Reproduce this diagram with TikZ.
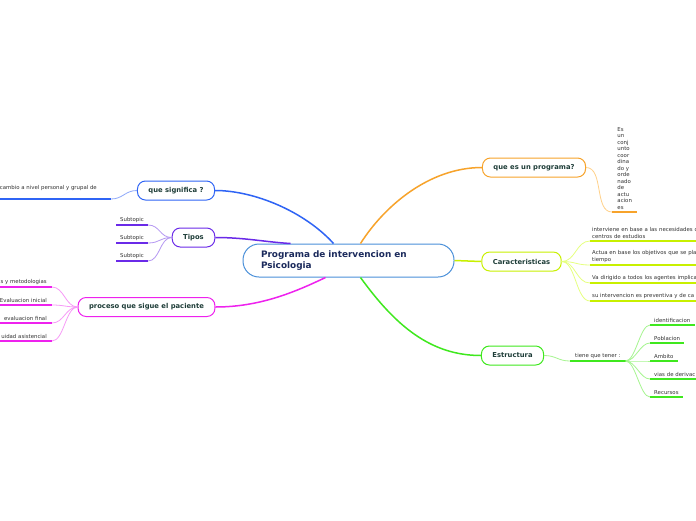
\documentclass[tikz,border=0pt]{standalone}
\usepackage{fontspec}
\setmainfont{DejaVu Sans}
\begin{document}
\begin{tikzpicture}[x=1pt,y=-1pt,
  topic/.style={draw,line width=1pt,rounded corners=8pt,fill=white,minimum height=19pt,inner xsep=11pt,inner ysep=0pt,text=topictext,font=\fontsize{6.8}{8}\selectfont\bfseries},
  leafr/.style={anchor=south west,inner xsep=4pt,inner ysep=2.5pt,align=left,text=leaftext,font=\fontsize{5.4}{6.5}\selectfont},
  leafl/.style={leafr,anchor=south east,align=right},
  ul/.style={line width=1.6pt},
  trunk/.style={line width=1.5pt},
  twig/.style={line width=0.8pt}]
\definecolor{ctrline}{HTML}{4A90D9}\definecolor{ctrtext}{HTML}{1B2A5C}
\definecolor{orng}{HTML}{F7A32B}\definecolor{orngl}{HTML}{FFD18A}
\definecolor{ylw}{HTML}{C8F000}\definecolor{ylwl}{HTML}{E6FF80}
\definecolor{grn}{HTML}{3FE81E}\definecolor{grnl}{HTML}{A6F590}
\definecolor{blu}{HTML}{2F64F5}\definecolor{blul}{HTML}{8FA9FA}
\definecolor{prp}{HTML}{6A2AE8}\definecolor{prpl}{HTML}{B497F2}
\definecolor{mgt}{HTML}{EE22EE}\definecolor{mgtl}{HTML}{F79AF7}
\definecolor{topictext}{HTML}{1E3D38}\definecolor{leaftext}{HTML}{333333}
\path[use as bounding box,fill=white] (0,0) rectangle (696,520);
\node[draw=ctrline,line width=1pt,rounded corners=16pt,fill=white,minimum height=33pt,text width=175pt,inner xsep=18pt,align=left,text=ctrtext,font=\fontsize{8.9}{11}\selectfont\bfseries] (prog) at (348.5,260.5) {Programa de intervencion en\\Psicologia};
\node[topic,draw=orng] (quees) at (534,167.5) {que es un programa?};
\node[topic,draw=ylw] (carac) at (521.5,261.5) {Caracteristicas};
\node[topic,draw=grn] (estr) at (512.5,355.5) {Estructura};
\node[topic,draw=blu] (signif) at (176,190.5) {que significa ?};
\node[topic,draw=prp] (tipos) at (193.5,237.5) {Tipos};
\node[topic,draw=mgt] (proc) at (146.5,307) {proceso que sigue el paciente};
\draw[trunk,orng] ([xshift=12pt]prog.north) .. controls (385,205) and (430,167.5) .. (quees.west);
\draw[trunk,blu] ([xshift=-15pt]prog.north) .. controls (305,212) and (255,190.5) .. (signif.east);
\draw[trunk,prp] ([xshift=-58pt]prog.north) .. controls (265,242) and (245,237.5) .. (tipos.east);
\draw[trunk,mgt] ([xshift=-23pt]prog.south) .. controls (295,292) and (260,307) .. (proc.east);
\draw[trunk,grn] ([xshift=12pt]prog.south) .. controls (395,325) and (430,355.5) .. (estr.west);
\draw[trunk,ylw] (prog.east) .. controls (468,261) and (468,261.5) .. (carac.west);
\node[leafr,inner xsep=5pt,minimum width=25pt] (es) at (612,212) {Es\\un\\conj\\unto\\coor\\dina\\do y\\orde\\nado\\de\\actu\\acion\\es};
\draw[twig,orngl] (quees.east) .. controls +(18,0) and +(-18,0) .. (es.south west);
\draw[ul,orng] (es.south west) -- (es.south east);
\node[leafr,inner xsep=2pt,text width=130pt] (nece) at (590,241) {interviene en base a las necesidades de\\centros de estudios};
\node[leafr,inner xsep=2pt,text width=130pt] (obje) at (590,265) {Actua en base los objetivos que se pla\\tiempo};
\node[leafr,inner xsep=2pt,text width=130pt] (agen) at (590,283) {Va dirigido a todos los agentes implica};
\node[leafr,inner xsep=2pt,text width=130pt] (prev) at (590,301) {su intervencion es preventiva y de ca};
\draw[twig,ylwl] (carac.east) .. controls +(14,0) and +(-14,0) .. (nece.south west);
\draw[twig,ylwl] (carac.east) .. controls +(14,0) and +(-14,0) .. (obje.south west);
\draw[twig,ylwl] (carac.east) .. controls +(14,0) and +(-14,0) .. (agen.south west);
\draw[twig,ylwl] (carac.east) .. controls +(14,0) and +(-14,0) .. (prev.south west);
\draw[ul,ylw] (nece.south west) -- (nece.south east);
\draw[ul,ylw] (obje.south west) -- (obje.south east);
\draw[ul,ylw] (agen.south west) -- (agen.south east);
\draw[ul,ylw] (prev.south west) -- (prev.south east);
\node[leafr,inner xsep=5pt] (tiene) at (570,361) {tiene que tener :};
\draw[twig,grnl] (estr.east) .. controls +(12,0) and +(-12,0) .. (tiene.south west);
\draw[ul,grn] (tiene.south west) -- (tiene.south east);
\node[leafr] (iden) at (650,325) {identificacion};
\node[leafr] (pobl) at (650,343) {Poblacion};
\node[leafr] (ambi) at (650,361) {Ambito};
\node[leafr,text width=50pt] (vias) at (650,379) {vias de derivac};
\node[leafr] (recu) at (650,397) {Recursos};
\foreach \n in {iden,pobl,ambi,vias,recu}{
  \draw[twig,grnl] (tiene.south east) .. controls +(10,0) and +(-10,0) .. (\n.south west);
  \draw[ul,grn] (\n.south west) -- (\n.south east);
}
\node[leafl,inner xsep=14pt,inner ysep=8pt] (camb) at (111,199) {cambio a nivel personal y grupal de};
\draw[twig,blul] (signif.west) .. controls +(-12,0) and +(12,0) .. (camb.south east);
\draw[ul,blu] (camb.south west) -- (camb.south east);
\node[leafl] (suba) at (148,225) {Subtopic};
\node[leafl] (subb) at (148,243) {Subtopic};
\node[leafl] (subc) at (148,261) {Subtopic};
\foreach \n in {suba,subb,subc}{
  \draw[twig,prpl] (tipos.west) .. controls +(-12,0) and +(12,0) .. (\n.south east);
  \draw[ul,prp] (\n.south west) -- (\n.south east);
}
\node[leafl,inner xsep=5pt,text width=60pt] (meto) at (52,287) {s y metodologias};
\node[leafl,inner xsep=5pt,text width=60pt] (inic) at (52,305) {Evaluacion inicial};
\node[leafl,inner xsep=5pt,text width=60pt] (fina) at (52,323) {evaluacion final};
\node[leafl,inner xsep=5pt,text width=60pt] (asis) at (52,341) {uidad asistencial};
\foreach \n in {meto,inic,fina,asis}{
  \draw[twig,mgtl] (proc.west) .. controls +(-12,0) and +(12,0) .. (\n.south east);
  \draw[ul,mgt] (\n.south west) -- (\n.south east);
}
\end{tikzpicture}
\end{document}
